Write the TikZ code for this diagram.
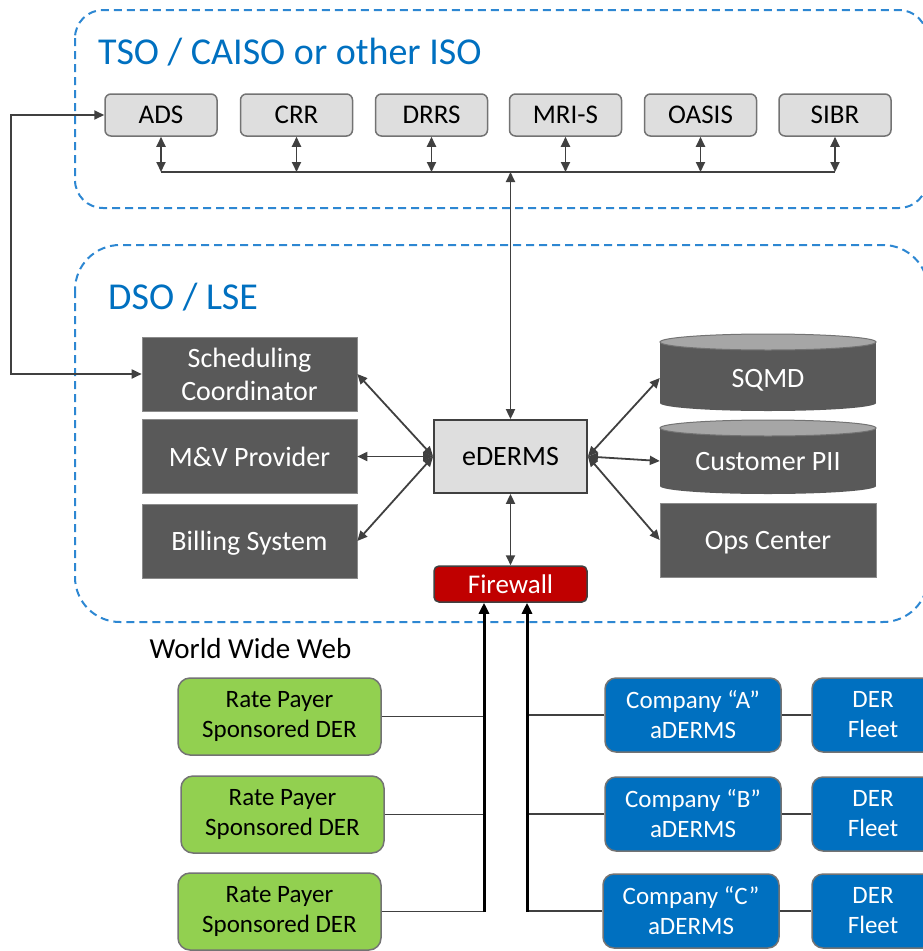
\documentclass[tikz,border=0pt]{standalone}
\usepackage{fontspec}
\setmainfont{Carlito}
\usetikzlibrary{arrows.meta}
\definecolor{isoblue}{RGB}{0,112,192}
\definecolor{dashblue}{RGB}{45,135,210}
\definecolor{lightbox}{RGB}{222,222,222}
\definecolor{darkbox}{RGB}{89,89,89}
\definecolor{cyltop}{RGB}{166,166,166}
\definecolor{ratgreen}{RGB}{146,208,80}
\definecolor{fwred}{RGB}{192,0,0}
\definecolor{linegrey}{RGB}{64,64,64}
\definecolor{edgegrey}{RGB}{115,115,115}
\tikzset{
  zoneline/.style={draw=dashblue, line width=2pt, dash pattern=on 8pt off 5pt},
  zonetitle/.style={text=isoblue, font=\fontsize{38}{45}\selectfont, anchor=west, inner sep=0pt},
  isobox/.style={draw=edgegrey, fill=lightbox, line width=1.5pt, rounded corners=6pt, text depth=0pt,
    minimum width=112pt, minimum height=42pt, inner sep=0pt, font=\fontsize{27}{32}\selectfont},
  dsobox/.style={fill=darkbox, draw=darkbox!70!white, line width=0.6pt, text=white, align=center,
    minimum width=215pt, minimum height=74pt, inner sep=0pt, font=\fontsize{28}{33}\selectfont},
  cylnode/.style={text=white, minimum width=216pt, minimum height=77pt, inner sep=0pt, text depth=0pt,
    font=\fontsize{28}{33}\selectfont},
  hubbox/.style={draw=linegrey, fill=lightbox, line width=1.8pt, minimum width=153pt, text depth=0pt,
    minimum height=73pt, inner sep=0pt, font=\fontsize{28}{33}\selectfont},
  fwbox/.style={draw=linegrey, fill=fwred, text=white, line width=1.5pt, rounded corners=5pt,
    minimum width=153pt, minimum height=36pt, inner sep=0pt, font=\fontsize{27}{32}\selectfont},
  ratebox/.style={draw=edgegrey, fill=ratgreen, line width=1.5pt, rounded corners=12pt, align=center,
    minimum width=203pt, minimum height=77pt, inner sep=0pt, font=\fontsize{25}{30}\selectfont},
  compbox/.style={draw=edgegrey, fill=isoblue, text=white, line width=1.5pt, rounded corners=11pt,
    align=center, minimum width=176pt, minimum height=74pt, inner sep=0pt, font=\fontsize{25}{30}\selectfont},
  fleetbox/.style={compbox, minimum width=122pt},
  isolink/.style={draw=linegrey, line width=1.8pt, <->, >={Triangle[length=10pt,width=9pt]}},
  feedline/.style={draw=linegrey, line width=1.8pt},
  webline/.style={draw=black, line width=3pt, -{Triangle[length=11pt,width=10pt]}}
}
\begin{document}
\begin{tikzpicture}[x=1pt,y=-1pt]
\useasboundingbox (0,0) rectangle (923,951);
\clip (0,0) rectangle (923,951);

% zones
\draw[zoneline, rounded corners=28pt] (75,10) rectangle (927,208);
\draw[zoneline, rounded corners=45pt] (75,245) rectangle (928,622);
\node[zonetitle] (tsotitle) at (98,52) {TSO / CAISO or other ISO};
\node[zonetitle] (dsotitle) at (108,297) {DSO / LSE};

% ISO systems
\node[isobox] (ads) at (161,115) {ADS};
\node[isobox] (crr) at (296.5,115) {CRR};
\node[isobox] (drrs) at (431.5,115) {DRRS};
\node[isobox] (mris) at (565.5,115) {MRI-S};
\node[isobox] (oasis) at (700.5,115) {OASIS};
\node[isobox] (sibr) at (835,115) {SIBR};
\coordinate (bus) at (510.5,172);
\draw[feedline] (ads.south |- bus) -- (sibr.south |- bus);
\draw[isolink] (ads.south) -- (ads.south |- bus);
\draw[isolink] (crr.south) -- (crr.south |- bus);
\draw[isolink] (drrs.south) -- (drrs.south |- bus);
\draw[isolink] (mris.south) -- (mris.south |- bus);
\draw[isolink] (oasis.south) -- (oasis.south |- bus);
\draw[isolink] (sibr.south) -- (sibr.south |- bus);

% DSO systems
\node[dsobox] (sc) at (249.5,374) {Scheduling\\Coordinator};
\node[dsobox, text depth=0pt] (mv) at (249.5,456.5) {M\&V Provider};
\node[dsobox, text depth=0pt] (bill) at (249.5,541) {Billing System};
\node[hubbox] (ederms) at (510.5,456.5) {eDERMS};
\node[fwbox] (fw) at (510.5,584) {Firewall};

% data stores
\fill[darkbox] (660,342) rectangle (876,403);
\fill[darkbox] (768,403) ellipse [x radius=108, y radius=8];
\filldraw[fill=cyltop, draw=edgegrey, line width=1pt] (768,342) ellipse [x radius=108, y radius=8];
\fill[darkbox] (660,428) rectangle (876,486);
\fill[darkbox] (768,486) ellipse [x radius=108, y radius=8];
\filldraw[fill=cyltop, draw=edgegrey, line width=1pt] (768,428) ellipse [x radius=108, y radius=8];
\node[cylnode] (sqmd) at (768,378) {SQMD};
\node[cylnode, minimum height=74pt] (pii) at (768,461) {Customer PII};
\node[dsobox, text depth=0pt, minimum width=216pt] (ops) at (768,540) {Ops Center};

\draw[isolink] (ads.west) -- ++(-93,0) |- (sc.west);
\draw[isolink] (ederms.north) -- (ederms.north |- bus);
\draw[isolink] (ederms.west) -- (sc.east);
\draw[isolink] (ederms.west) -- (mv.east);
\draw[isolink] (ederms.west) -- (bill.east);
\draw[isolink] (ederms.east) -- (sqmd.west);
\draw[isolink] (ederms.east) -- (pii.west);
\draw[isolink] (ederms.east) -- (ops.west);
\draw[isolink] (ederms.south) -- (fw.north);

% world wide web
\node[font=\fontsize{29}{34}\selectfont, inner sep=0pt] (www) at (250.5,649) {World Wide Web};
\node[ratebox] (rp1) at (279.5,716.5) {Rate Payer\\Sponsored DER};
\node[ratebox] (rp2) at (282.5,814.5) {Rate Payer\\Sponsored DER};
\node[ratebox] (rp3) at (279.5,911.5) {Rate Payer\\Sponsored DER};
\node[compbox] (coa) at (693,715) {Company “A”\\aDERMS};
\node[compbox] (cob) at (693,814) {Company “B”\\aDERMS};
\node[compbox] (coc) at (691,911) {Company “C”\\aDERMS};
\node[fleetbox] (fla) at (873,715) {DER\\Fleet};
\node[fleetbox] (flb) at (873,814) {DER\\Fleet};
\node[fleetbox] (flc) at (873,911) {DER\\Fleet};

\coordinate (wl) at (484,912);
\coordinate (wr) at (527,912);
\draw[feedline] (rp1.east) -- (rp1.east -| wl);
\draw[feedline] (rp2.east) -- (rp2.east -| wl);
\draw[feedline] (rp3.east) -- (rp3.east -| wl);
\draw[feedline] (coa.west) -- (coa.west -| wr);
\draw[feedline] (cob.west) -- (cob.west -| wr);
\draw[feedline] (coc.west) -- (coc.west -| wr);
\draw[feedline] (coa.east) -- (fla.west);
\draw[feedline] (cob.east) -- (flb.west);
\draw[feedline] (coc.east) -- (flc.west);
\draw[webline] (wl) -- (wl |- fw.south);
\draw[webline] (wr) -- (wr |- fw.south);
\end{tikzpicture}
\end{document}
